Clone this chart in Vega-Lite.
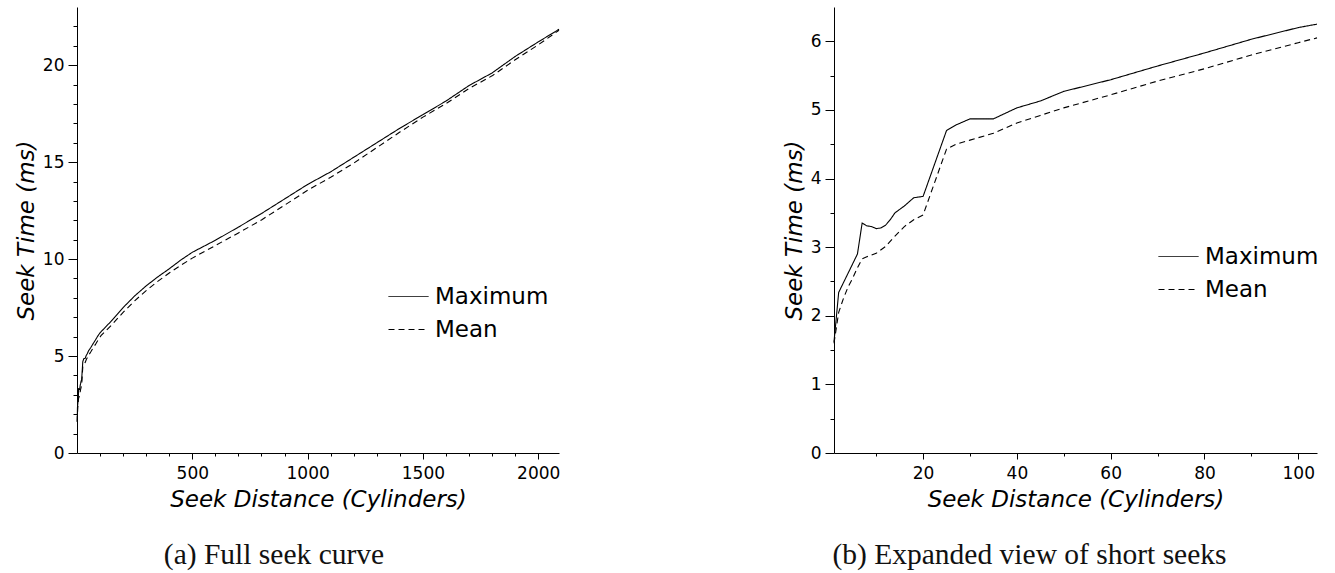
{
  "$schema": "https://vega.github.io/schema/vega-lite/v6.json",
  "background": "white",
  "padding": {"left": 15, "top": 7, "right": 5, "bottom": 5},
  "spacing": 221,
  "config": {
    "view": {"stroke": null},
    "axis": {
      "domainColor": "black",
      "domainWidth": 1,
      "tickColor": "black",
      "tickWidth": 1,
      "grid": false,
      "labelFont": "DejaVu Sans",
      "labelFontSize": 17,
      "labelColor": "black",
      "labelFlush": false,
      "labelOverlap": false,
      "titleFont": "DejaVu Sans",
      "titleFontSize": 23,
      "titleFontStyle": "italic",
      "titleFontWeight": "normal",
      "titleColor": "black"
    },
    "axisX": {"labelPadding": 6, "titlePadding": 7, "tickSize": 6},
    "axisY": {"labelPadding": 4, "titlePadding": 4, "tickSize": 9},
    "legend": {
      "orient": "none",
      "title": null,
      "padding": 0,
      "symbolType": "stroke",
      "symbolSize": 1600,
      "symbolStrokeWidth": 1,
      "symbolStrokeColor": "black",
      "labelFont": "DejaVu Sans",
      "labelFontSize": 23,
      "labelColor": "black",
      "labelOffset": 6,
      "rowPadding": -6
    },
    "title": {
      "orient": "bottom",
      "anchor": "middle",
      "font": "Liberation Serif",
      "fontSize": 29.5,
      "fontWeight": "normal",
      "color": "#111",
      "offset": 30
    }
  },
  "datasets": {
    "seek": [
      {"distance": 1, "series": "Maximum", "time": 1.62},
      {"distance": 2, "series": "Maximum", "time": 2.34},
      {"distance": 3, "series": "Maximum", "time": 2.48},
      {"distance": 4, "series": "Maximum", "time": 2.62},
      {"distance": 5, "series": "Maximum", "time": 2.76},
      {"distance": 6, "series": "Maximum", "time": 2.9},
      {"distance": 7, "series": "Maximum", "time": 3.35},
      {"distance": 8, "series": "Maximum", "time": 3.31},
      {"distance": 9, "series": "Maximum", "time": 3.3},
      {"distance": 10, "series": "Maximum", "time": 3.27},
      {"distance": 11, "series": "Maximum", "time": 3.28},
      {"distance": 12, "series": "Maximum", "time": 3.32},
      {"distance": 13, "series": "Maximum", "time": 3.4},
      {"distance": 14, "series": "Maximum", "time": 3.5},
      {"distance": 15, "series": "Maximum", "time": 3.55},
      {"distance": 16, "series": "Maximum", "time": 3.6},
      {"distance": 17, "series": "Maximum", "time": 3.66},
      {"distance": 18, "series": "Maximum", "time": 3.72},
      {"distance": 19, "series": "Maximum", "time": 3.73},
      {"distance": 20, "series": "Maximum", "time": 3.74},
      {"distance": 25, "series": "Maximum", "time": 4.7},
      {"distance": 27, "series": "Maximum", "time": 4.78},
      {"distance": 30, "series": "Maximum", "time": 4.87},
      {"distance": 35, "series": "Maximum", "time": 4.87},
      {"distance": 40, "series": "Maximum", "time": 5.03},
      {"distance": 45, "series": "Maximum", "time": 5.13},
      {"distance": 50, "series": "Maximum", "time": 5.27},
      {"distance": 60, "series": "Maximum", "time": 5.44},
      {"distance": 70, "series": "Maximum", "time": 5.64},
      {"distance": 80, "series": "Maximum", "time": 5.83},
      {"distance": 90, "series": "Maximum", "time": 6.03},
      {"distance": 100, "series": "Maximum", "time": 6.2},
      {"distance": 104, "series": "Maximum", "time": 6.25},
      {"distance": 150, "series": "Maximum", "time": 6.82},
      {"distance": 200, "series": "Maximum", "time": 7.5},
      {"distance": 250, "series": "Maximum", "time": 8.1},
      {"distance": 300, "series": "Maximum", "time": 8.62},
      {"distance": 350, "series": "Maximum", "time": 9.08},
      {"distance": 400, "series": "Maximum", "time": 9.5},
      {"distance": 450, "series": "Maximum", "time": 9.95},
      {"distance": 500, "series": "Maximum", "time": 10.35},
      {"distance": 600, "series": "Maximum", "time": 10.97},
      {"distance": 700, "series": "Maximum", "time": 11.65},
      {"distance": 800, "series": "Maximum", "time": 12.35},
      {"distance": 900, "series": "Maximum", "time": 13.1},
      {"distance": 1000, "series": "Maximum", "time": 13.85},
      {"distance": 1100, "series": "Maximum", "time": 14.5},
      {"distance": 1200, "series": "Maximum", "time": 15.25},
      {"distance": 1300, "series": "Maximum", "time": 16.0},
      {"distance": 1400, "series": "Maximum", "time": 16.75},
      {"distance": 1500, "series": "Maximum", "time": 17.45},
      {"distance": 1600, "series": "Maximum", "time": 18.15},
      {"distance": 1700, "series": "Maximum", "time": 18.95},
      {"distance": 1800, "series": "Maximum", "time": 19.6},
      {"distance": 1900, "series": "Maximum", "time": 20.45},
      {"distance": 2000, "series": "Maximum", "time": 21.2},
      {"distance": 2090, "series": "Maximum", "time": 21.85},
      {"distance": 1, "series": "Mean", "time": 1.6},
      {"distance": 2, "series": "Mean", "time": 2.05},
      {"distance": 3, "series": "Mean", "time": 2.25},
      {"distance": 4, "series": "Mean", "time": 2.42},
      {"distance": 5, "series": "Mean", "time": 2.55},
      {"distance": 6, "series": "Mean", "time": 2.7},
      {"distance": 7, "series": "Mean", "time": 2.83},
      {"distance": 8, "series": "Mean", "time": 2.86},
      {"distance": 10, "series": "Mean", "time": 2.91},
      {"distance": 12, "series": "Mean", "time": 3.01},
      {"distance": 14, "series": "Mean", "time": 3.16},
      {"distance": 16, "series": "Mean", "time": 3.3},
      {"distance": 18, "series": "Mean", "time": 3.4},
      {"distance": 20, "series": "Mean", "time": 3.47},
      {"distance": 25, "series": "Mean", "time": 4.43},
      {"distance": 27, "series": "Mean", "time": 4.5},
      {"distance": 30, "series": "Mean", "time": 4.56},
      {"distance": 35, "series": "Mean", "time": 4.66},
      {"distance": 40, "series": "Mean", "time": 4.81},
      {"distance": 45, "series": "Mean", "time": 4.92},
      {"distance": 50, "series": "Mean", "time": 5.03},
      {"distance": 60, "series": "Mean", "time": 5.22},
      {"distance": 70, "series": "Mean", "time": 5.42},
      {"distance": 80, "series": "Mean", "time": 5.6},
      {"distance": 90, "series": "Mean", "time": 5.8},
      {"distance": 100, "series": "Mean", "time": 5.98},
      {"distance": 104, "series": "Mean", "time": 6.05},
      {"distance": 150, "series": "Mean", "time": 6.6},
      {"distance": 200, "series": "Mean", "time": 7.25},
      {"distance": 250, "series": "Mean", "time": 7.85},
      {"distance": 300, "series": "Mean", "time": 8.37},
      {"distance": 350, "series": "Mean", "time": 8.85},
      {"distance": 400, "series": "Mean", "time": 9.28},
      {"distance": 450, "series": "Mean", "time": 9.68},
      {"distance": 500, "series": "Mean", "time": 10.05},
      {"distance": 600, "series": "Mean", "time": 10.7},
      {"distance": 700, "series": "Mean", "time": 11.35},
      {"distance": 800, "series": "Mean", "time": 12.02},
      {"distance": 900, "series": "Mean", "time": 12.78},
      {"distance": 1000, "series": "Mean", "time": 13.55},
      {"distance": 1100, "series": "Mean", "time": 14.22},
      {"distance": 1200, "series": "Mean", "time": 14.95},
      {"distance": 1300, "series": "Mean", "time": 15.75},
      {"distance": 1400, "series": "Mean", "time": 16.55},
      {"distance": 1500, "series": "Mean", "time": 17.32},
      {"distance": 1600, "series": "Mean", "time": 18.02},
      {"distance": 1700, "series": "Mean", "time": 18.8},
      {"distance": 1800, "series": "Mean", "time": 19.45},
      {"distance": 1900, "series": "Mean", "time": 20.28},
      {"distance": 2000, "series": "Mean", "time": 21.05},
      {"distance": 2090, "series": "Mean", "time": 21.8}
    ]
  },
  "resolve": {"legend": {"strokeDash": "independent"}},
  "hconcat": [
    {
      "width": 482,
      "height": 446,
      "title": {"text": "(a) Full seek curve", "dx": -44},
      "data": {"name": "seek"},
      "layer": [
        {
          "mark": {"type": "line", "color": "black", "strokeWidth": 1.1},
          "encoding": {
            "x": {
              "field": "distance",
              "type": "quantitative",
              "title": "Seek Distance (Cylinders)",
              "scale": {"domain": [0, 2090], "nice": false, "zero": false},
              "axis": {"values": [500, 1000, 1500, 2000], "format": "d", "orient": "bottom"}
            },
            "y": {
              "field": "time",
              "type": "quantitative",
              "title": "Seek Time (ms)",
              "scale": {"domain": [0, 23], "nice": false},
              "axis": {"values": [0, 5, 10, 15, 20], "format": "d", "orient": "left"}
            },
            "strokeDash": {
              "field": "series",
              "type": "nominal",
              "scale": {"domain": ["Maximum", "Mean"], "range": [[1, 0], [6, 4]]},
              "legend": {"legendX": 311, "legendY": 269}
            }
          }
        },
        {
          "mark": {"type": "line", "strokeOpacity": 0},
          "encoding": {
            "x": {
              "field": "distance",
              "type": "quantitative",
              "axis": {"orient": "bottom", "title": null, "labels": false, "domain": false, "tickSize": 3,
                "values": [100, 200, 300, 400, 600, 700, 800, 900, 1100, 1200, 1300, 1400, 1600, 1700, 1800, 1900]}
            },
            "y": {
              "field": "time",
              "type": "quantitative",
              "axis": {"orient": "left", "title": null, "labels": false, "domain": false, "tickSize": 4,
                "values": [1, 2, 3, 4, 6, 7, 8, 9, 11, 12, 13, 14, 16, 17, 18, 19, 21, 22]}
            },
            "detail": {"field": "series"}
          }
        }
      ],
      "resolve": {"axis": {"x": "independent", "y": "independent"}}
    },
    {
      "width": 483,
      "height": 446,
      "title": {"text": "(b) Expanded view of short seeks", "dx": -46},
      "data": {"name": "seek"},
      "transform": [{"filter": "datum.distance <= 104"}],
      "layer": [
        {
          "mark": {"type": "line", "color": "black", "strokeWidth": 1.1},
          "encoding": {
            "x": {
              "field": "distance",
              "type": "quantitative",
              "title": "Seek Distance (Cylinders)",
              "scale": {"domain": [1, 104], "nice": false, "zero": false},
              "axis": {"values": [20, 40, 60, 80, 100], "format": "d", "orient": "bottom"}
            },
            "y": {
              "field": "time",
              "type": "quantitative",
              "title": "Seek Time (ms)",
              "scale": {"domain": [0, 6.5], "nice": false},
              "axis": {"values": [0, 1, 2, 3, 4, 5, 6], "format": "d", "orient": "left"}
            },
            "strokeDash": {
              "field": "series",
              "type": "nominal",
              "scale": {"domain": ["Maximum", "Mean"], "range": [[1, 0], [6, 4]]},
              "legend": {"legendX": 324, "legendY": 229}
            }
          }
        },
        {
          "mark": {"type": "line", "strokeOpacity": 0},
          "encoding": {
            "x": {
              "field": "distance",
              "type": "quantitative",
              "axis": {"orient": "bottom", "title": null, "labels": false, "domain": false, "tickSize": 3,
                "values": [10, 30, 50, 70, 90]}
            },
            "y": {
              "field": "time",
              "type": "quantitative",
              "axis": {"orient": "left", "title": null, "labels": false, "domain": false, "tickSize": 4,
                "values": [0.5, 1.5, 2.5, 3.5, 4.5, 5.5]}
            },
            "detail": {"field": "series"}
          }
        }
      ],
      "resolve": {"axis": {"x": "independent", "y": "independent"}}
    }
  ]
}
